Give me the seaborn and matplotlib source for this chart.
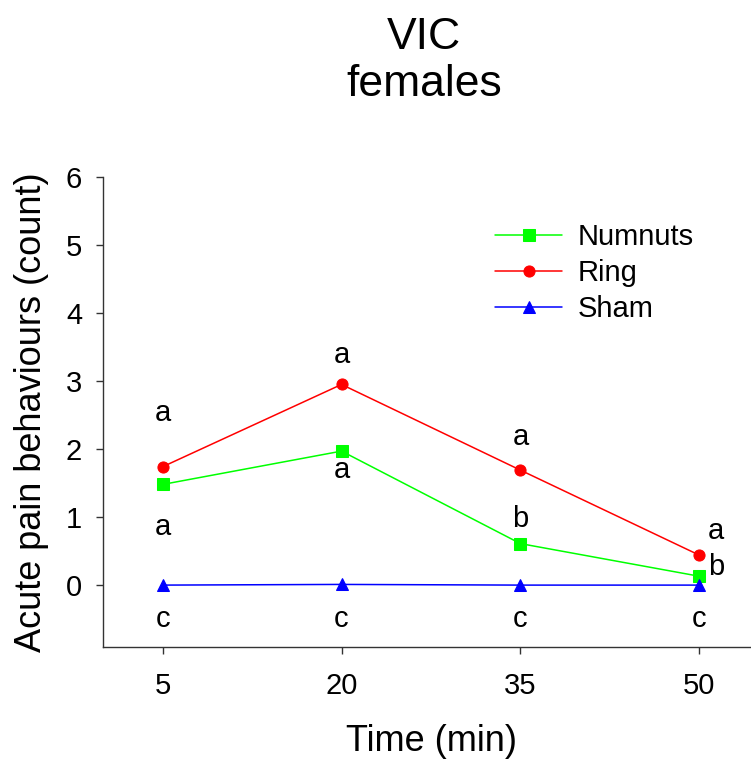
import matplotlib
matplotlib.use("Agg")
import matplotlib.pyplot as plt
import seaborn as sns
import pandas as pd

# ---- data ----
times = [5, 20, 35, 50]
groups = ["Numnuts", "Ring", "Sham"]
numnuts = [1.48, 1.97, 0.61, 0.13]
ring = [1.74, 2.95, 1.69, 0.44]
sham = [0.0, 0.01, 0.0, 0.0]

# significance letters (text, x, y in data units)
letter_text = ["a", "a", "c", "a", "a", "c", "a", "b", "c", "a", "b", "c"]
letter_x = [5, 5, 5, 20, 20, 20, 35, 35, 35, 51.4, 51.4, 50]
letter_y = [2.53, 0.85, -0.5, 3.38, 1.69, -0.5, 2.18, 0.97, -0.5, 0.79, 0.26, -0.5]

title_lines = ["VIC", "females"]
x_label = "Time (min)"
y_label = "Acute pain behaviours (count)"

df = pd.DataFrame({
    "time": times * 3,
    "value": numnuts + ring + sham,
    "group": [g for g in groups for _ in times],
})

sns.set_theme(style="ticks")
plt.rcParams["font.family"] = ["Liberation Sans", "DejaVu Sans"]
plt.rcParams["text.color"] = "black"
plt.rcParams["axes.labelcolor"] = "black"

fig = plt.figure(figsize=(7.51, 7.60), dpi=100)
W, H = 751, 760
ax = fig.add_axes([103 / W, 1 - 647 / H, 656 / W, (647 - 177) / H])

palette = {"Numnuts": "#00ff00", "Ring": "#ff0000", "Sham": "#0000ff"}
markers = {"Numnuts": "s", "Ring": "o", "Sham": "^"}
sns.lineplot(data=df, x="time", y="value", hue="group", style="group",
             palette=palette, markers=markers, dashes=False,
             linewidth=1.1, markersize=8, ax=ax, legend="auto")
for ln in ax.lines:
    ln.set_markeredgecolor(ln.get_color())
    ln.set_markerfacecolor(ln.get_color())

ax.set_xlim(0, 55)
ax.set_ylim(-0.91, 6)
ax.set_xticks(times)
ax.set_yticks([0, 1, 2, 3, 4, 5, 6])
ax.tick_params(axis="both", direction="out", length=5, width=1, colors="#333333",
               labelsize=21, labelcolor="black")
ax.tick_params(axis="x", pad=13)
ax.tick_params(axis="y", pad=10)
for s in ["top", "right"]:
    ax.spines[s].set_visible(False)
for s in ["left", "bottom"]:
    ax.spines[s].set_color("#333333")
    ax.spines[s].set_linewidth(1)

ax.set_xlabel(x_label, fontsize=26, labelpad=17)
ax.set_ylabel(y_label, fontsize=26, labelpad=12)

for t, x, y in zip(letter_text, letter_x, letter_y):
    ax.text(x, y, t, ha="center", va="center", fontsize=21, color="black")

handles, labels = ax.get_legend_handles_labels()
leg = ax.legend(handles, labels, frameon=False, fontsize=21,
                loc="upper left", bbox_to_anchor=(495 / W, 1 - 223 / H),
                bbox_transform=fig.transFigure, borderpad=0, borderaxespad=0,
                handlelength=2.3, handletextpad=0.55, labelspacing=0.27)
for txt in leg.get_texts():
    txt.set_color("black")

fig.text(424 / W, 1 - 17 / H, "\n".join(title_lines), ha="center", va="top",
         fontsize=32, linespacing=1.2, color="black")

fig.savefig("out.png", dpi=100)
